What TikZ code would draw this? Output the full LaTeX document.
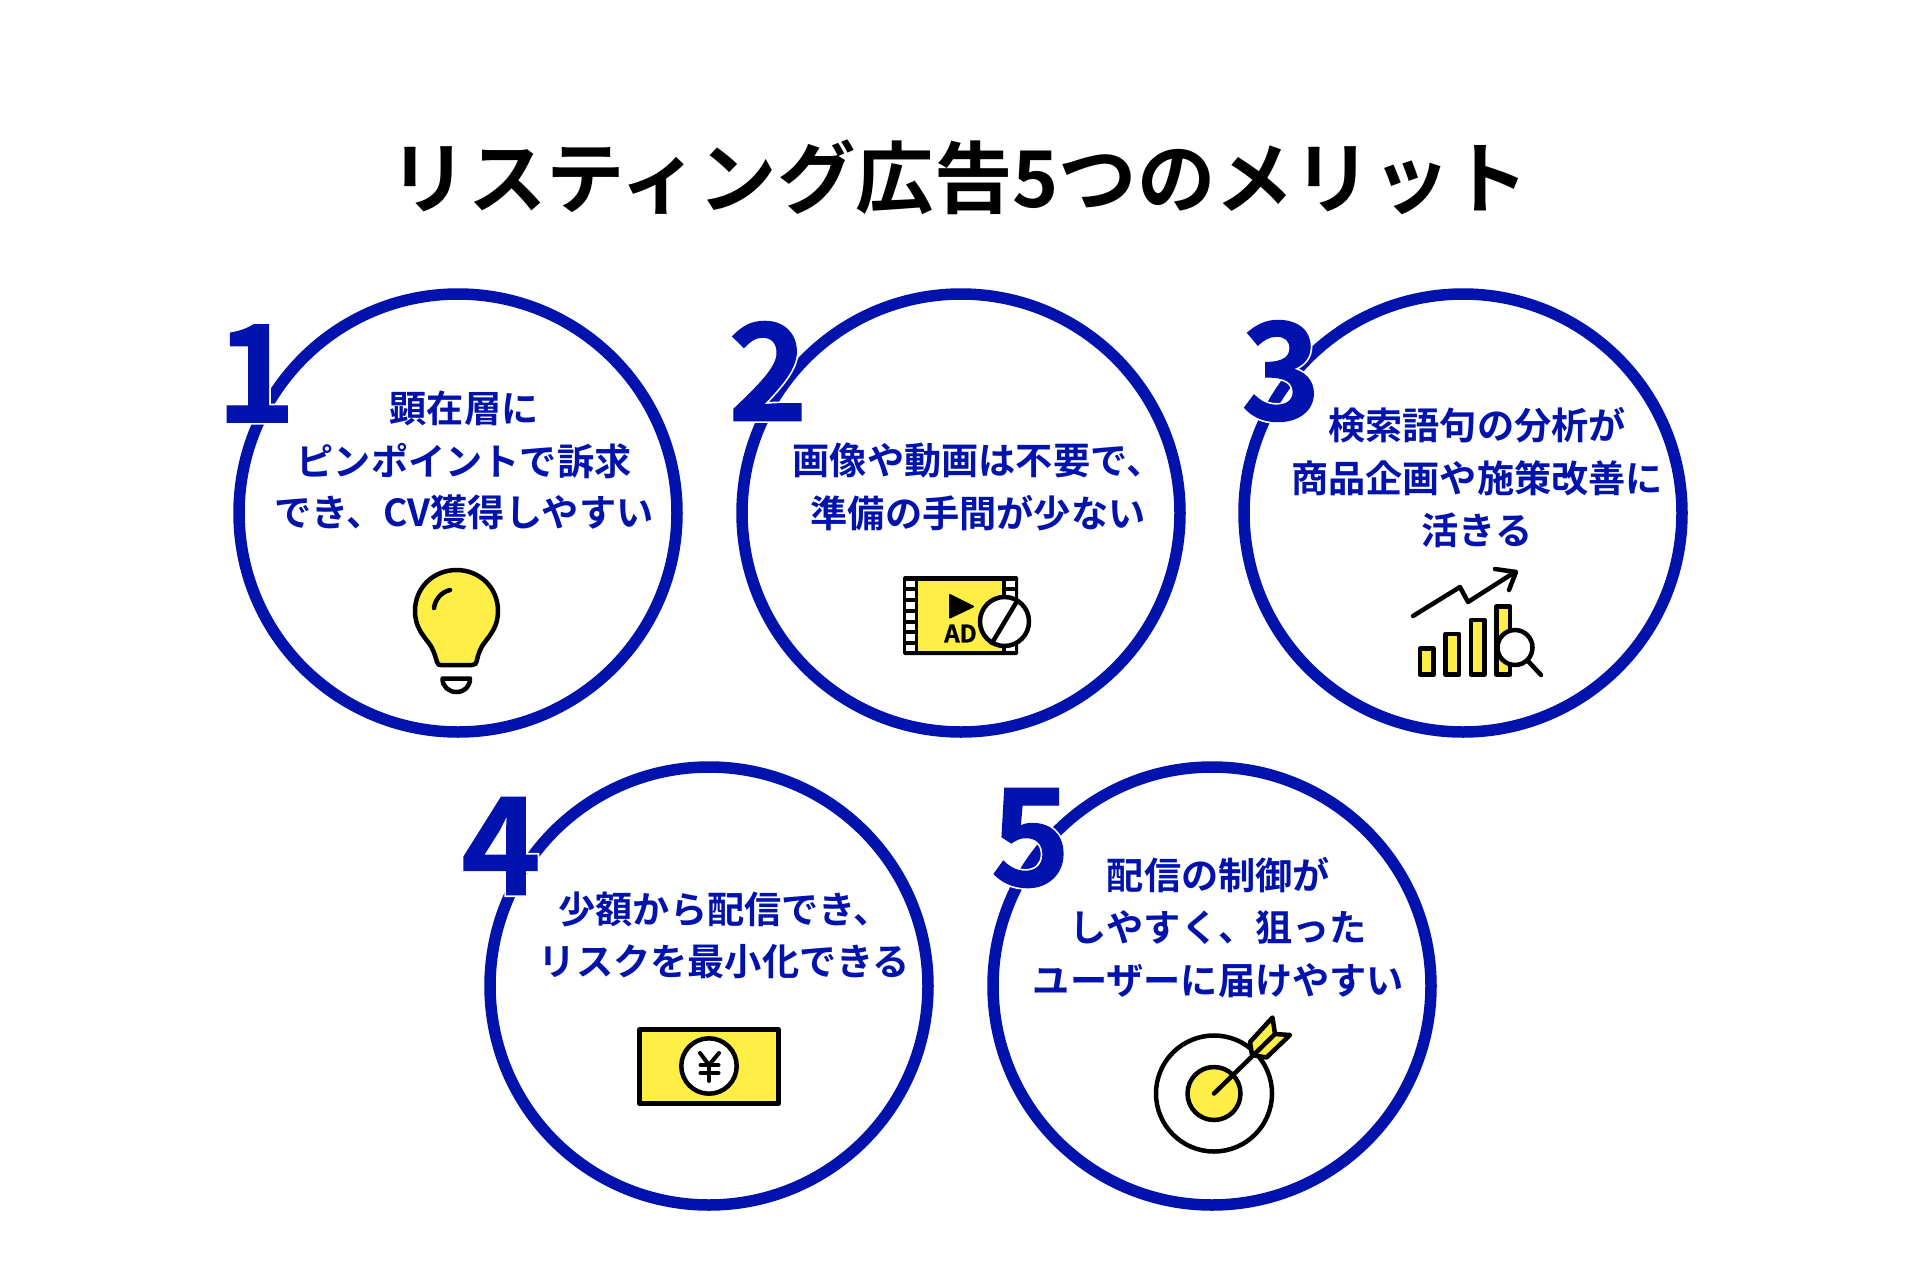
\documentclass[tikz,border=0pt]{standalone}
\usepackage{fontspec}
\newfontfamily\cjk{Noto Sans CJK JP}[BoldFont={Noto Sans CJK JP Bold}]
\newfontfamily\cjknum{Noto Sans CJK JP Bold}[FakeBold=1]
\newfontfamily\cjkhalo{Noto Sans CJK JP Bold}[FakeBold=3.5]
\definecolor{navy}{HTML}{0212AC}
\definecolor{yel}{HTML}{FFEE46}
\tikzset{
 ring/.style={circle,draw=navy,line width=11.5pt,minimum size=438pt,inner sep=0pt},
 title/.style={font=\cjk\bfseries\fontsize{78.4}{78.4}\selectfont,text=black,inner sep=0pt},
 body/.style={font=\cjk\bfseries\fontsize{37.2}{37.2}\selectfont,text=navy,inner sep=0pt},
 numhalo/.style={font=\cjkhalo\fontsize{135}{135}\selectfont,text=white,inner sep=0pt},
 num/.style={font=\cjknum\fontsize{135}{135}\selectfont,text=navy,inner sep=0pt},
 ico/.style={draw=black,line width=4.5pt,line join=round,line cap=round},
}
\begin{document}
\begin{tikzpicture}[x=1pt,y=-1pt]
\useasboundingbox (0,0) rectangle (1920,1280);
\fill[white] (0,0) rectangle (1920,1280);
\node[title] (t) at (959.5,177) {リスティング広告5つのメリット};
% rings
\node[ring] (c1) at (458,513) {};
\node[ring] (c2) at (961,513) {};
\node[ring] (c3) at (1463,513) {};
\node[ring] (c4) at (709,986) {};
\node[ring] (c5) at (1212,986) {};
% numbers
\foreach \n/\x/\y in {1/256/373.5,2/768/371,3/1281/371,4/501/846,5/1030.5/838}{
  \node[numhalo] at (\x,\y) {\n};
  \node[num] (n\n) at (\x,\y) {\n};
}
% texts
\node[body] (a1) at (464,408) {顕在層に};
\node[body] (a2) at (464,461) {ピンポイントで訴求};
\node[body] (a3) at (464,512) {でき、CV獲得しやすい};
\node[body] (b1) at (978,460.5) {画像や動画は不要で、};
\node[body] (b2) at (978,513) {準備の手間が少ない};
\node[body] (d1) at (1477,425) {検索語句の分析が};
\node[body] (d2) at (1477,478) {商品企画や施策改善に};
\node[body] (d3) at (1477,530) {活きる};
\node[body] (e1) at (724.5,909.5) {少額から配信でき、};
\node[body] (e2) at (724.5,962) {リスクを最小化できる};
\node[body] (f1) at (1218.5,875) {配信の制御が};
\node[body] (f2) at (1218.5,928) {しやすく、狙った};
\node[body] (f3) at (1218.5,980.5) {ユーザーに届けやすい};
% bulb
\draw[ico,fill=yel] (437,662) .. controls (435,655) and (433,648) .. (428,642)
  .. controls (422,634) and (415,626) .. (415,611)
  .. controls (415,587) and (434,570) .. (456.5,570)
  .. controls (479,570) and (498,587) .. (498,611)
  .. controls (498,626) and (491,634) .. (485,642)
  .. controls (480,648) and (478,655) .. (477,660)
  .. controls (476,664) and (475,665) .. (472,665)
  -- (441,665) .. controls (439,665) and (438,665) .. (437,662) -- cycle;
\draw[ico] (434,608) .. controls (435,600) and (441,592) .. (450,590);
\draw[ico,fill=white] (442.5,678.5) -- (470,678.5) .. controls (470,687) and (464,692) .. (456.5,692)
  .. controls (449,692) and (442.5,687) .. (442.5,678.5) -- cycle;
% film
\fill[black,rounded corners=1.5pt] (903,576) rectangle (1018,655);
\fill[yel] (918,580.5) rectangle (1002,651);
\foreach \y in {580.5,591,602,613,623.5,634,644.5}{
  \fill[white] (906,\y) rectangle (915,\y+6.5);
  \fill[white] (1006,\y) rectangle (1014.5,\y+6.5);
}
\draw[ico,fill=black,line width=2pt] (950,595) -- (973,606.5) -- (950,617.5) -- cycle;
\node[inner sep=0pt,font=\cjknum\fontsize{24}{24}\selectfont] (ad) at (960.5,633.5) {AD};
\draw[ico,fill=white] (1004.5,621.5) circle[radius=24.5];
\draw[ico] (1016.5,602) -- (992,643);
% chart
\draw[ico] (1413,616) -- (1460,587) -- (1468,602) -- (1515,572);
\draw[ico] (1495,569) -- (1516,572) -- (1509,590);
\foreach \x/\y in {1420/648.5,1445.5/634,1471/620,1496.5/606.5}{
  \draw[ico,fill=yel] (\x,\y) rectangle (\x+13.5,674.5);
}
\draw[ico,fill=white] (1515,647.5) circle[radius=17.5];
\draw[ico] (1528,661) -- (1541,675);
% yen note
\draw[draw=black,line width=4.5pt,fill=yel,line join=round] (639.5,1029.5) rectangle (778.5,1103.5);
\draw[draw=black,line width=4.5pt,fill=white] (709,1066) circle[radius=27.7];
\draw[ico,line width=4pt] (700,1053) -- (709,1065) -- (719,1053);
\draw[ico,line width=4pt] (709,1065) -- (709,1081);
\draw[ico,line width=4pt] (700.5,1065) -- (718.5,1065);
\draw[ico,line width=4pt] (700.5,1073) -- (718.5,1073);
% target
\draw[ico,fill=white] (1214,1093.5) circle[radius=58];
\draw[ico,fill=yel] (1214,1093.5) circle[radius=26.5];
\draw[ico,fill=yel] (1250,1042) -- (1272.5,1017.5) -- (1275,1034) -- (1290,1035) -- (1266.5,1057.5) -- (1252,1055) -- cycle;
\draw[ico] (1214,1093.5) -- (1275,1034);
\end{tikzpicture}
\end{document}
